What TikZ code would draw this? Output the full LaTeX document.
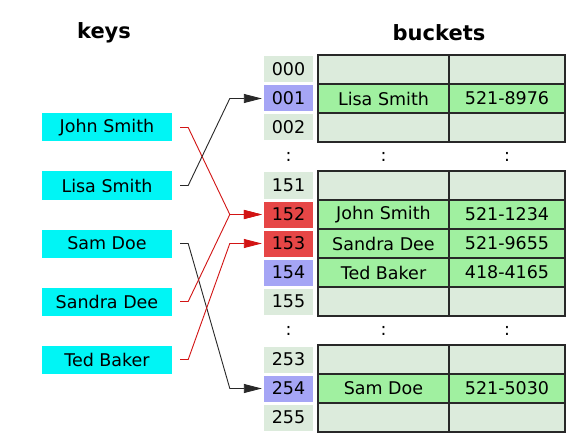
\documentclass[tikz,border=0pt]{standalone}
\usepackage{fontspec}
\setmainfont{DejaVu Sans}
\usetikzlibrary{arrows.meta}
\definecolor{idxgray}{RGB}{220,235,220}
\definecolor{idxblue}{RGB}{165,165,245}
\definecolor{idxred}{RGB}{230,70,70}
\definecolor{rowgreen}{RGB}{160,240,160}
\definecolor{keycyan}{RGB}{0,245,245}
\definecolor{linered}{RGB}{210,20,20}
\definecolor{gridline}{RGB}{40,40,40}
\tikzset{
  txt/.style={font=\fontsize{17.5}{20}\selectfont, text=black},
  title/.style={font=\fontsize{21}{24}\selectfont\bfseries},
  keybox/.style={txt, fill=keycyan, minimum width=130pt, minimum height=28pt, inner sep=0pt},
  idx/.style={txt, minimum width=49pt, minimum height=26pt, inner sep=0pt},
  cellA/.style={txt, draw=gridline, line width=1.2pt, minimum width=131pt, minimum height=29pt, inner sep=0pt},
  cellB/.style={txt, draw=gridline, line width=1.2pt, minimum width=116pt, minimum height=29pt, inner sep=0pt},
  dots/.style={txt},
  conn/.style={line width=0.9pt, -{Triangle[length=18pt,width=9pt]}},
  blackconn/.style={conn, draw=gridline},
  redconn/.style={conn, draw=linered}
}
\begin{document}
\begin{tikzpicture}[x=1pt,y=-1pt]
\useasboundingbox[fill=white] (0,0) rectangle (585,446);
\node[title] (tkeys) at (104,33) {keys};
\node[title] (tbuckets) at (439,33) {buckets};
% index column and table rows
\foreach \k/\lab/\col/\na/\nb/\rowcol in {
  0/000/idxgray/{}/{}/idxgray,
  1/001/idxblue/Lisa Smith/521-8976/rowgreen,
  2/002/idxgray/{}/{}/idxgray,
  4/151/idxgray/{}/{}/idxgray,
  5/152/idxred/John Smith/521-1234/rowgreen,
  6/153/idxred/Sandra Dee/521-9655/rowgreen,
  7/154/idxblue/Ted Baker/418-4165/rowgreen,
  8/155/idxgray/{}/{}/idxgray,
  10/253/idxgray/{}/{}/idxgray,
  11/254/idxblue/Sam Doe/521-5030/rowgreen,
  12/255/idxgray/{}/{}/idxgray}{
  \node[idx, fill=\col] (i\lab) at (288.5, 69.5+29*\k) {\lab};
  \node[cellA, fill=\rowcol] (n\lab) at (383.5, 69.5+29*\k) {\na};
  \node[cellB, fill=\rowcol] (p\lab) at (507, 69.5+29*\k) {\nb};
}
\foreach \k/\nm in {3/a,9/b}{
  \node[dots] (ci\nm) at (288.5, 69.5+29*\k) {:};
  \node[dots] (cn\nm) at (383.5, 69.5+29*\k) {:};
  \node[dots] (cp\nm) at (507, 69.5+29*\k) {:};
}
% keys
\node[keybox] (js) at (107,127.5) {John Smith};
\node[keybox] (ls) at (107,185.5) {Lisa Smith};
\node[keybox] (sd) at (107,243.5) {Sam Doe};
\node[keybox] (sa) at (107,301.5) {Sandra Dee};
\node[keybox] (tb) at (107,359.5) {Ted Baker};
% connectors
\draw[redconn] ([xshift=8pt]js.east) -- ([xshift=16pt]js.east) -- ([xshift=-34pt]i152.west) -- ([xshift=-2pt]i152.west);
\draw[blackconn] ([xshift=8pt]ls.east) -- ([xshift=16pt]ls.east) -- ([xshift=-34pt]i001.west) -- ([xshift=-2pt]i001.west);
\draw[blackconn] ([xshift=8pt]sd.east) -- ([xshift=16pt]sd.east) -- ([xshift=-34pt]i254.west) -- ([xshift=-2pt]i254.west);
\draw[redconn] ([xshift=8pt]sa.east) -- ([xshift=16pt]sa.east) -- ([xshift=-34pt]i152.west) -- ([xshift=-2pt]i152.west);
\draw[redconn] ([xshift=8pt]tb.east) -- ([xshift=16pt]tb.east) -- ([xshift=-34pt]i153.west) -- ([xshift=-2pt]i153.west);
\end{tikzpicture}
\end{document}
